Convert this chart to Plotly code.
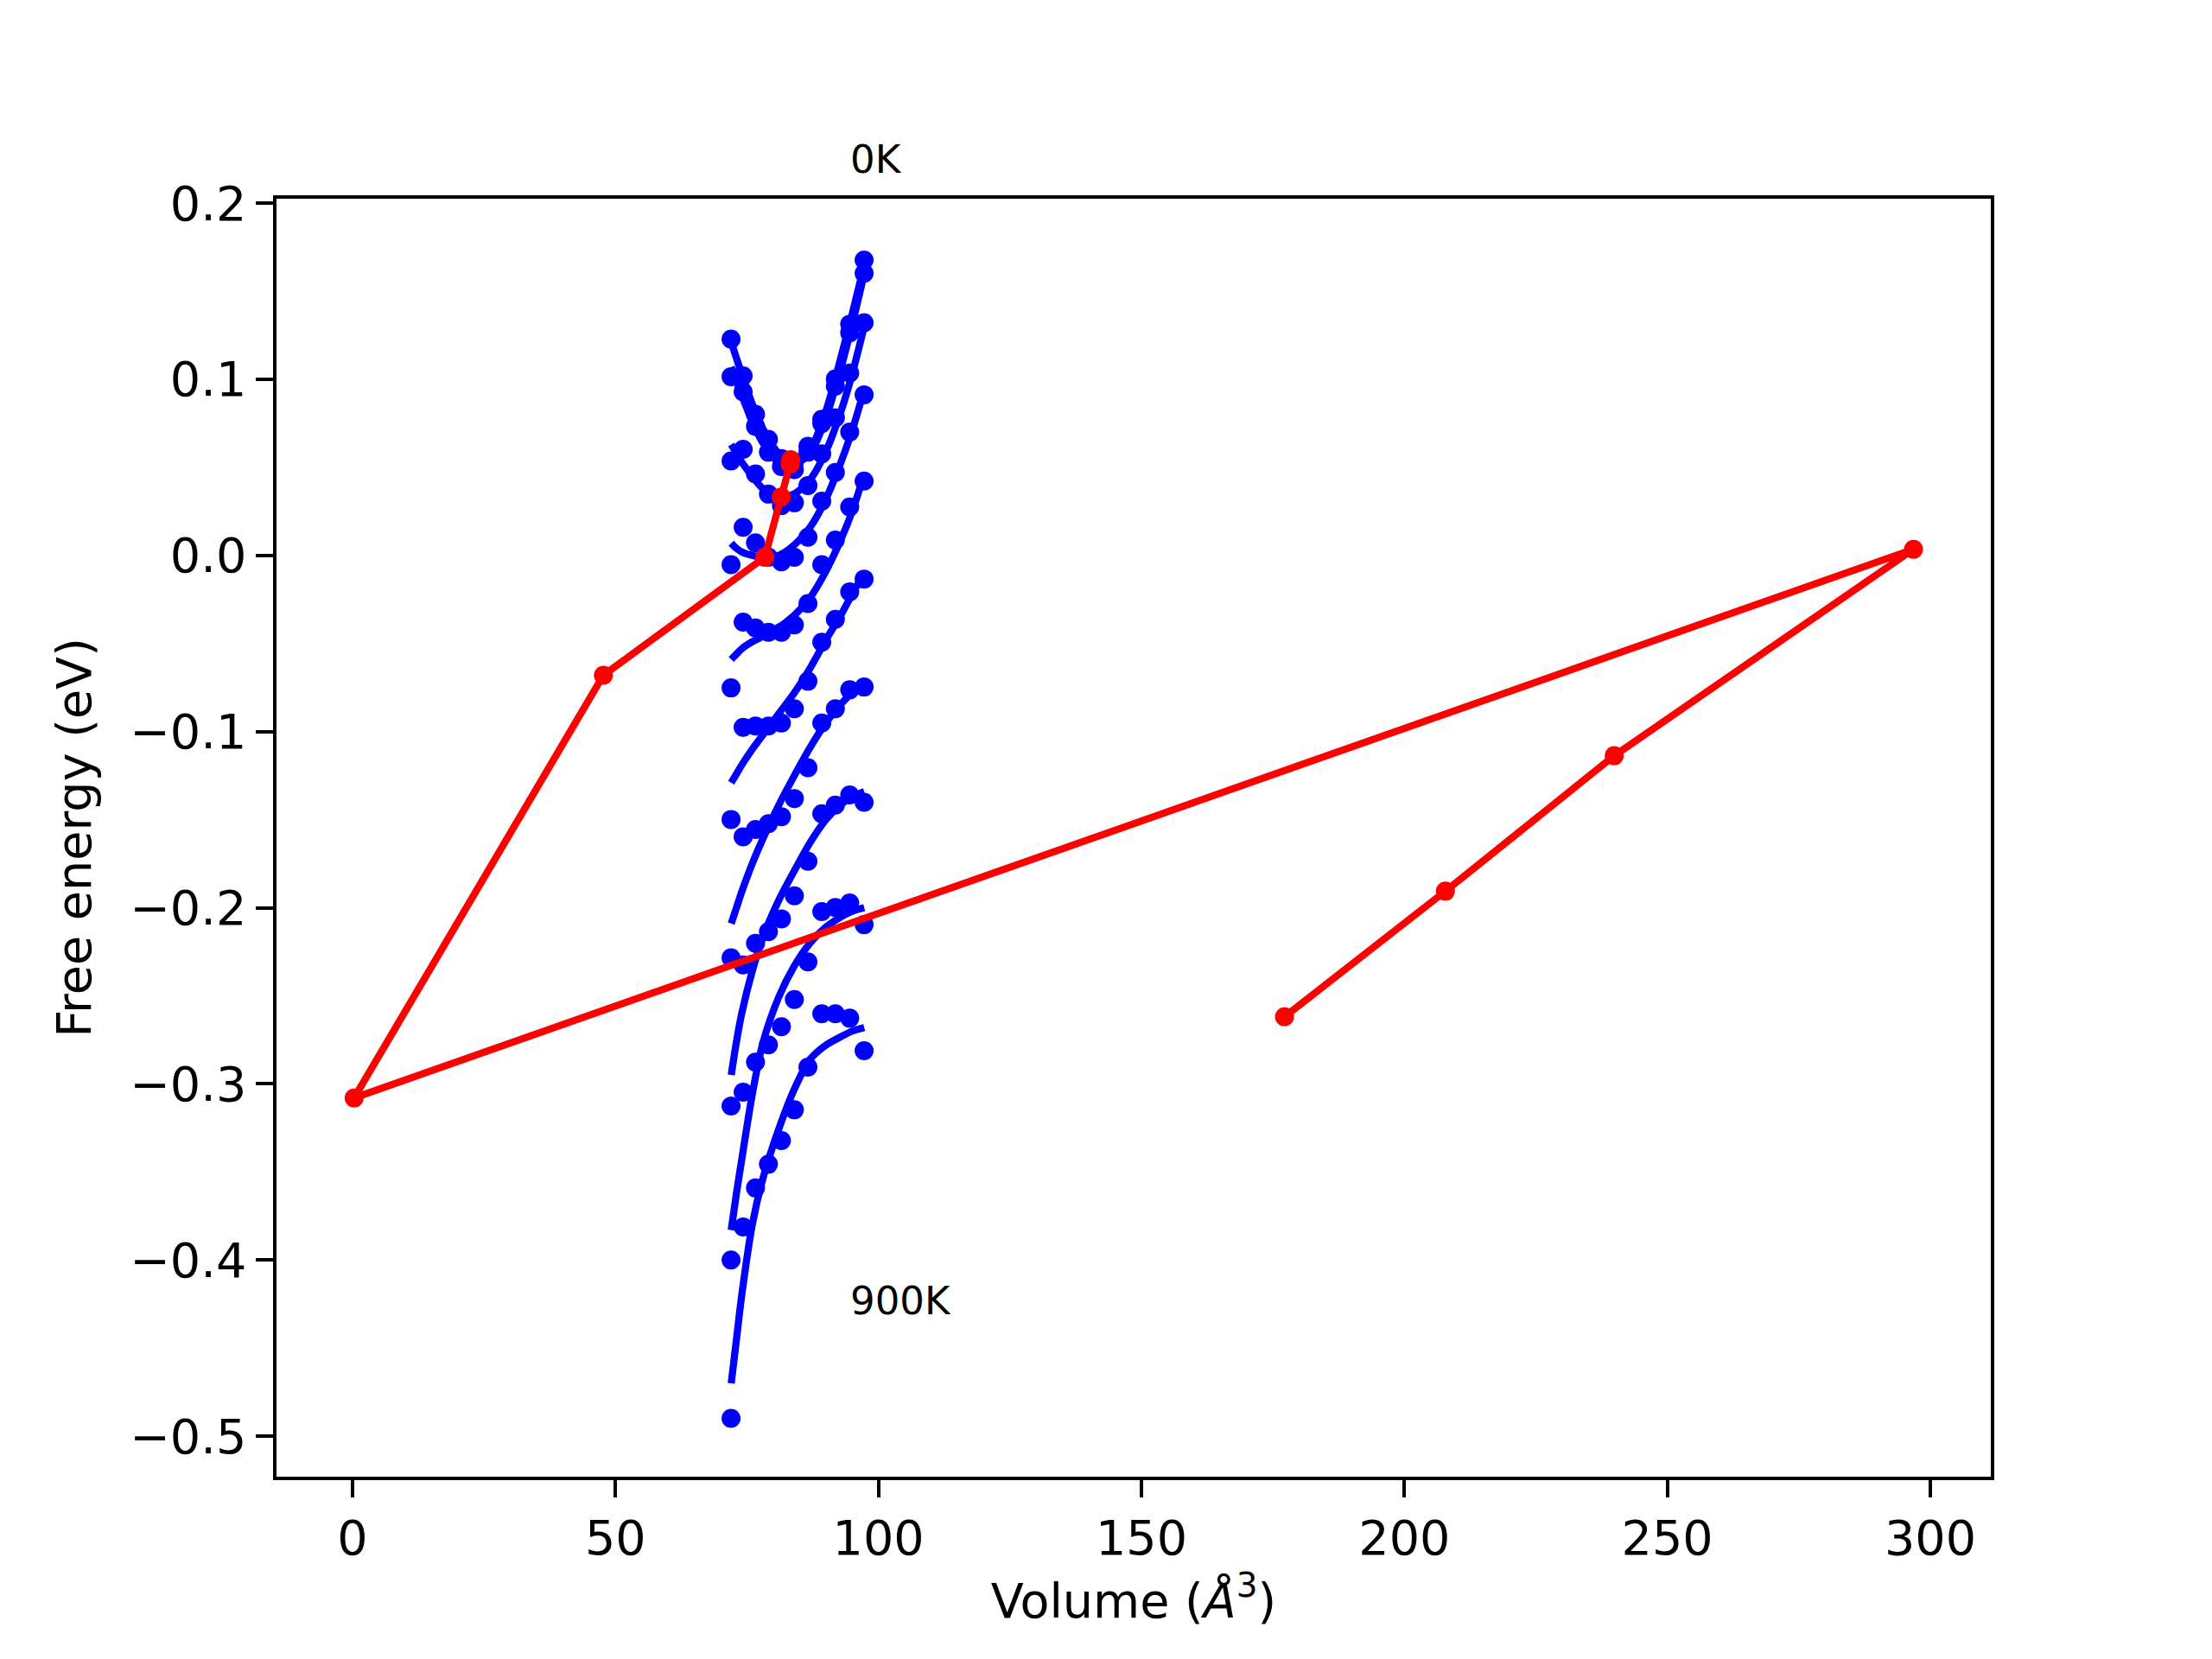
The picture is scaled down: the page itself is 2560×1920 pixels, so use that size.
import plotly.graph_objects as go

# ---- data ----
temperatures = ["0K", "100K", "200K", "300K", "400K", "500K", "600K", "700K", "800K", "900K"]
volumes = [71.97, 74.27, 76.62, 79.08, 81.55, 84.01, 86.59, 89.22, 91.80, 94.53, 97.27]

F_0K = [0.1228, 0.1019, 0.0801, 0.0659, 0.0550, 0.0530, 0.0620, 0.0773, 0.1002, 0.1313, 0.1677]
F_100K = [0.1015, 0.0929, 0.0733, 0.0586, 0.0504, 0.0487, 0.0586, 0.0749, 0.0961, 0.1264, 0.1602]
F_200K = [0.0536, 0.0602, 0.0463, 0.0348, 0.0283, 0.0299, 0.0397, 0.0577, 0.0782, 0.1035, 0.1321]
F_300K = [-0.0052, 0.0160, 0.0071, -0.0010, -0.0036, -0.0011, 0.0103, 0.0308, 0.0471, 0.0700, 0.0912]
F_400K = [-0.0752, -0.0379, -0.0412, -0.0436, -0.0436, -0.0395, -0.0273, -0.0052, 0.0087, 0.0275, 0.0422]
F_500K = [-0.1499, -0.0976, -0.0968, -0.0968, -0.0951, -0.0870, -0.0714, -0.0493, -0.0363, -0.0207, -0.0134]
F_600K = [-0.2284, -0.1597, -0.1556, -0.1523, -0.1483, -0.1380, -0.1205, -0.0951, -0.0870, -0.0763, -0.0747]
F_700K = [-0.3126, -0.2325, -0.2202, -0.2136, -0.2063, -0.1932, -0.1736, -0.1466, -0.1417, -0.1360, -0.1401]
F_800K = [-0.4000, -0.3047, -0.2877, -0.2779, -0.2676, -0.2521, -0.2308, -0.2022, -0.1998, -0.1973, -0.2096]
F_900K = [-0.4899, -0.3812, -0.3591, -0.3456, -0.3322, -0.3147, -0.2905, -0.2602, -0.2602, -0.2627, -0.2812]

# fitted curves
fit_volumes = [72, 73, 74, 76, 78, 81, 84, 87, 90, 93, 95, 97.3]
fit_0K = [0.121, 0.112, 0.103, 0.086, 0.072, 0.058, 0.053, 0.060, 0.082, 0.114, 0.137, 0.165]
fit_100K = [0.107, 0.099, 0.091, 0.076, 0.064, 0.054, 0.052, 0.058, 0.078, 0.108, 0.131, 0.160]
fit_200K = [0.063, 0.058, 0.053, 0.045, 0.038, 0.033, 0.035, 0.043, 0.059, 0.083, 0.103, 0.130]
fit_300K = [0.007, 0.004, 0.002, 0.000, -0.001, 0.000, 0.006, 0.016, 0.032, 0.054, 0.071, 0.094]
fit_400K = [-0.059, -0.056, -0.053, -0.049, -0.046, -0.041, -0.034, -0.024, -0.009, 0.010, 0.025, 0.046]
fit_500K = [-0.129, -0.124, -0.119, -0.110, -0.102, -0.090, -0.078, -0.064, -0.048, -0.033, -0.022, -0.010]
fit_600K = [-0.209, -0.200, -0.191, -0.175, -0.161, -0.142, -0.125, -0.109, -0.095, -0.084, -0.078, -0.074]
fit_700K = [-0.295, -0.276, -0.260, -0.236, -0.217, -0.196, -0.179, -0.163, -0.150, -0.141, -0.137, -0.134]
fit_800K = [-0.383, -0.362, -0.343, -0.306, -0.277, -0.251, -0.233, -0.220, -0.211, -0.205, -0.202, -0.200]
fit_900K = [-0.470, -0.445, -0.420, -0.380, -0.354, -0.326, -0.303, -0.286, -0.278, -0.273, -0.270, -0.268]

# equilibrium (minimum) points per temperature
min_volumes = [83.3, 83.2, 81.5, 78.4, 47.7, 0.3, 296.8, 239.9, 207.8, 177.2]
min_energies = [0.0543, 0.0518, 0.0332, -0.0010, -0.0680, -0.3080, 0.0035, -0.1137, -0.1906, -0.2619]

x_ticks = [0, 50, 100, 150, 200, 250, 300]
y_ticks = [-0.5, -0.4, -0.3, -0.2, -0.1, 0.0, 0.1, 0.2]
y_tick_text = ["\u22120.5", "\u22120.4", "\u22120.3", "\u22120.2", "\u22120.1", "0.0", "0.1", "0.2"]

energies = [F_0K, F_100K, F_200K, F_300K, F_400K, F_500K, F_600K, F_700K, F_800K, F_900K]
fits = [fit_0K, fit_100K, fit_200K, fit_300K, fit_400K, fit_500K, fit_600K, fit_700K, fit_800K, fit_900K]

BLUE = "#0000ff"
RED = "#ff0000"
LW = 8.3
MS = 22

fig = go.Figure()
for name, e, f in zip(temperatures, energies, fits):
    fig.add_trace(go.Scatter(x=volumes, y=e, mode="markers", name=name,
                             marker=dict(color=BLUE, size=MS, line=dict(width=0)),
                             showlegend=False, cliponaxis=True))
    fig.add_trace(go.Scatter(x=fit_volumes, y=f, mode="lines", name=name + " fit",
                             line=dict(color=BLUE, width=LW, shape="spline", smoothing=0.8),
                             showlegend=False))

fig.add_trace(go.Scatter(x=min_volumes, y=min_energies, mode="lines+markers",
                         line=dict(color=RED, width=LW),
                         marker=dict(color=RED, size=MS, line=dict(width=0)),
                         showlegend=False))

x_range = [-14.46, 311.5]
y_range = [-0.523, 0.2025]

def paper_y(v):
    return (v - y_range[0]) / (y_range[1] - y_range[0])

FONT = "DejaVu Sans"
fig.add_annotation(x=94.3, y=paper_y(0.2250), xref="x", yref="paper", text="0K",
                   showarrow=False, xanchor="left", yanchor="middle",
                   font=dict(family=FONT, size=45, color="black"))
fig.add_annotation(x=94.3, y=paper_y(-0.4231), xref="x", yref="paper", text="900K",
                   showarrow=False, xanchor="left", yanchor="middle",
                   font=dict(family=FONT, size=45, color="black"))

axis_common = dict(showgrid=False, zeroline=False, showline=True, linecolor="black",
                   linewidth=4.4, mirror=True, ticks="outside", ticklen=19.4, tickwidth=4.4,
                   tickcolor="black", tickfont=dict(family=FONT, size=55.6, color="black"))

fig.update_layout(
    width=2560, height=1920,
    margin=dict(l=312, r=264, t=222, b=219),
    paper_bgcolor="white", plot_bgcolor="white",
    font=dict(family=FONT, color="black"),
    xaxis=dict(range=x_range, tickvals=x_ticks, ticktext=[str(v) for v in x_ticks],
               title=dict(text="Volume (<i>\u00c5</i><sup>3</sup>)", standoff=20,
                          font=dict(family=FONT, size=55.6, color="black")),
               **axis_common),
    yaxis=dict(range=y_range, tickvals=y_ticks, ticktext=y_tick_text,
               title=dict(text="Free energy (eV)", standoff=28,
                          font=dict(family=FONT, size=55.6, color="black")),
               **axis_common),
)

fig.write_html("out.html")
